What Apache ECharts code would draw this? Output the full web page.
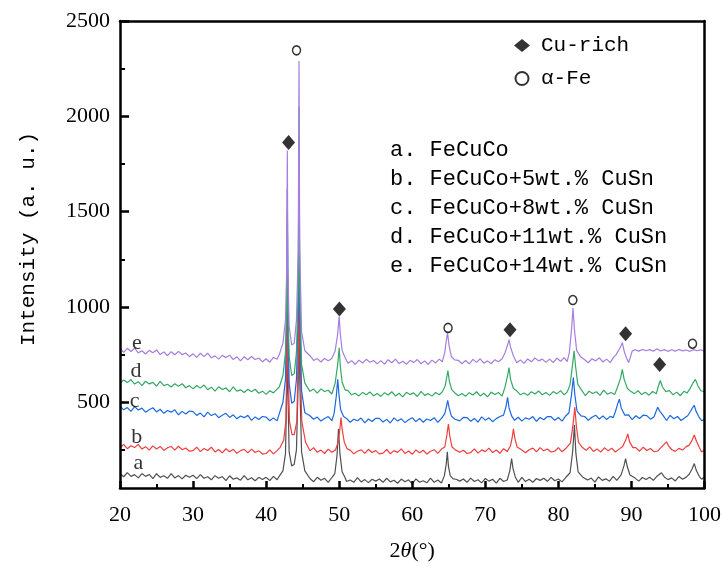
<!DOCTYPE html>
<html>
<head>
<meta charset="utf-8">
<script src="https://cdn.jsdelivr.net/npm/echarts@6/dist/echarts.min.js"></script>
<style>
  html, body { margin: 0; padding: 0; background: #fff; }
  #chart { width: 724px; height: 567px; }
</style>
</head>
<body>
<div id="chart"></div>
<script>
// 各样品的XRD曲线 [2θ, 强度]
var seriesA = [[20,127],[20.5,109],[21,131],[21.5,111],[22,120],[22.5,103],[23,126],[23.5,111],[24,121],[24.5,99],[25,125],[25.5,106],[26,114],[26.5,101],[27,126],[27.5,103],[28,115],[28.5,98],[29,117],[29.5,106],[30,117],[30.5,99],[31,120],[31.5,101],[32,109],[32.5,93],[33,115],[33.5,101],[34,110],[34.5,89],[35,114],[35.5,96],[36,103],[36.5,91],[37,115],[37.5,93],[38,104],[38.5,88],[39,106],[39.5,95],[40,106],[40.5,89],[41,111],[41.5,93],
  [41.8,112],[42.3,140],[42.65,230],[42.82,560],[42.9,1000],[42.98,560],[43.15,240],[43.5,165],[43.85,175],[44.15,250],[44.4,620],[44.5,1400],[44.6,620],[44.85,240],[45.3,140],
  [46,100],[46.5,83],[47,106],[47.5,91],[48,101],[48.5,79],[49,105],[49.4,125],[49.7,220],[49.9,360],[50.1,230],[50.4,135],[50.8,105],
  [51,84],[51.5,92],[52,80],[52.5,104],[53,82],[53.5,94],[54,78],[54.5,96],[55,86],[55.5,97],[56,80],[56.5,101],[57,82],[57.5,91],[58,75],[58.5,97],[59,83],[59.5,93],[60,72],[60.5,98],[61,80],[61.5,88],[62,77],[62.5,102],[63,80],[63.5,92],[64,76],
  [64.4,115],[64.65,175],[64.8,240],[64.95,165],[65.2,115],[65.6,98],
  [66,96],[66.5,86],[67,97],[67.5,80],[68,102],[68.5,84],[69,93],[69.5,77],[70,100],[70.5,86],[71,96],[71.5,76],[72,101],[72.5,84],[73,92],
  [73.35,140],[73.6,204],[73.8,150],[74.1,108],
  [74.5,80],[75,106],[75.5,84],[76,96],[76.5,80],[77,100],[77.5,90],[78,101],[78.5,85],[79,106],[79.5,88],[80,97],[80.5,82],[81,105],
  [81.6,130],[81.95,240],[82.2,380],[82.4,230],[82.7,135],[83.3,108],
  [84,92],[84.5,102],[85,81],[85.5,108],[86,90],[86.5,98],[87,86],[87.5,111],[88,90],
  [88.6,120],[89.0,170],[89.2,204],[89.45,160],[89.8,118],
  [90.5,102],[91,86],[91.5,105],[92,95],[92.5,106],[93,90],[93.5,112],[94.1,130],[94.5,108],
  [95,94],[95.5,103],[96,87],[96.5,110],[97,96],[97.5,107],
  [97.9,122],[98.3,150],[98.6,178],[98.9,140],[99.3,110],[99.6,96],[100,108]];
var seriesB = [[20,261],[20.5,279],[21,256],[21.5,272],[22,262],[22.5,279],[23,254],[23.5,267],[24,249],[24.5,271],[25,255],[25.5,268],[26,247],[26.5,261],[27,268],[27.5,249],[28,269],[28.5,251],[29,260],[29.5,243],[30,246],[30.5,264],[31,241],[31.5,257],[32,247],[32.5,264],[33,239],[33.5,252],[34,234],[34.5,256],[35,240],[35.5,253],[36,232],[36.5,246],[37,253],[37.5,234],[38,254],[38.5,236],[39,245],[39.5,228],[40,231],[40.5,250],[41,229],[41.5,246],
  [41.9,262],[42.4,300],[42.7,400],[42.83,700],[42.92,1200],[43.0,700],[43.2,400],[43.55,330],[43.85,330],[44.2,400],[44.42,800],[44.52,1500],[44.62,800],[44.88,400],[45.4,290],
  [46,245],[46.5,262],[47,237],[47.5,249],[48,231],[48.5,254],[49,238],
  [49.5,250],[49.85,290],[50.1,360],[50.25,420],[50.4,360],[50.7,290],[51.1,255],
  [51.5,249],[52,229],[52.5,243],[53,251],[53.5,232],[54,253],[54.5,236],[55,246],[55.5,229],[56,233],[56.5,252],[57,230],[57.5,246],[58,237],[58.5,255],[59,231],[59.5,244],[60,227],[60.5,250],[61,235],[61.5,248],[62,228],[62.5,243],[63,251],[63.5,232],[64,254],
  [64.45,265],[64.75,330],[64.95,386],[65.15,320],[65.45,265],[65.9,250],
  [66.5,238],[67,248],[67.5,231],[68,236],[68.5,255],[69,233],[69.5,250],[70,241],[70.5,259],[71,236],[71.5,249],[72,232],[72.5,256],[73,241],
  [73.45,272],[73.7,320],[73.85,360],[74.05,310],[74.35,265],
  [74.8,255],[75.5,235],[76,251],[76.5,259],[77,240],[77.5,262],[78,245],[78.5,255],[79,239],[79.5,243],[80,262],[80.5,240],[81,257],
  [81.65,285],[82.0,380],[82.25,474],[82.45,380],[82.75,290],[83.3,262],
  [83.8,248],[84.3,266],[84.8,242],[85.3,255],[85.8,238],[86.3,261],[86.8,246],[87.3,259],[87.8,239],[88.3,254],
  [88.8,268],[89.25,305],[89.5,334],[89.75,292],[90.2,262],
  [90.6,262],[91.1,243],[91.6,264],[92.1,247],[92.6,257],[93.1,240],[93.6,244],[94.1,264],
  [94.5,280],[94.8,292],[95.1,270],[95.5,252],
  [96,242],[96.5,258],[97,249],[97.5,267],
  [97.9,275],[98.3,300],[98.6,328],[98.9,295],[99.3,262],[99.6,239],[100,249]];
var seriesC = [[20,480],[20.5,460],[21,472],[21.5,452],[22,477],[22.5,459],[23,469],[23.5,448],[24,461],[24.5,471],[25,449],[25.5,463],[26,442],[26.5,457],[27,448],[27.5,460],[28,434],[28.5,452],[29,438],[29.5,454],[30,451],[30.5,431],[31,443],[31.5,423],[32,448],[32.5,430],[33,440],[33.5,419],[34,432],[34.5,442],[35,420],[35.5,434],[36,413],[36.5,428],[37,419],[37.5,431],[38,405],[38.5,423],[39,409],[39.5,425],[40,422],[40.5,403],[41,418],[41.5,402],
  [41.8,440],[42.3,500],[42.65,620],[42.82,1000],[42.9,1620],[42.98,1000],[43.15,600],[43.5,495],[43.85,505],[44.15,620],[44.4,1000],[44.5,1900],[44.6,1000],[44.85,560],[45.3,445],
  [46,429],[46.5,411],[47,422],[47.5,401],[48,415],[48.5,425],[49,403],
  [49.3,440],[49.6,530],[49.8,620],[49.97,540],[50.2,460],[50.6,425],
  [51,415],[51.5,395],[52,411],[52.5,403],[53,417],[53.5,392],[54,412],[54.5,399],[55,416],[55.5,415],[56,396],[56.5,410],[57,391],[57.5,418],[58,401],[58.5,413],[59,393],[59.5,408],[60,419],[60.5,398],[61,415],[61.5,395],[62,412],[62.5,404],[63,419],[63.5,394],[64,415],
  [64.45,440],[64.7,480],[64.85,510],[65.05,470],[65.35,428],[65.8,412],
  [66.5,402],[67,420],[67.5,419],[68,400],[68.5,415],[69,396],[69.5,423],[70,406],[70.5,418],[71,398],[71.5,414],[72,425],
  [72.5,432],[72.85,480],[73.05,526],[73.25,470],[73.6,428],
  [74,405],[74.5,421],[75,401],[75.5,418],[76,411],[76.5,425],[77,400],[77.5,420],[78,408],[78.5,425],[79,424],[79.5,405],[80,420],[80.5,401],[81,428],
  [81.45,445],[81.8,540],[82.05,630],[82.25,540],[82.55,455],[83.1,428],
  [83.6,425],[84.1,405],[84.6,421],[85.1,432],[85.6,412],[86.1,428],[86.6,409],[87.1,426],[87.5,419],
  [87.8,450],[88.15,495],[88.35,516],[88.6,470],[89.1,432],
  [89.6,434],[90.1,409],[90.6,429],[91.1,415],[91.6,432],[92.1,430],[92.6,411],[93.1,424],
  [93.35,450],[93.6,474],[93.9,452],[94.3,432],
  [94.8,404],[95.3,431],[95.8,413],[96.3,425],[96.8,404],[97.3,419],[97.7,429],
  [98.05,450],[98.35,470],[98.6,484],[98.85,452],[99.25,422],[99.6,403],[100,410]];
var seriesD = [[20,599],[20.5,617],[21,603],[21.5,619],[22,595],[22.5,608],[23,587],[23.5,610],[24,596],[24.5,604],[25,584],[25.5,609],[26,587],[26.5,594],[27,580],[27.5,597],[28,584],[28.5,597],[29,576],[29.5,587],[30,570],[30.5,588],[31,574],[31.5,590],[32,566],[32.5,579],[33,558],[33.5,581],[34,567],[34.5,575],[35,555],[35.5,580],[36,558],[36.5,565],[37,551],[37.5,568],[38,555],[38.5,568],[39,547],[39.5,558],[40,541],[40.5,560],[41,549],[41.5,569],
  [41.8,580],[42.3,640],[42.65,760],[42.82,1000],[42.9,1500],[42.98,1000],[43.15,740],[43.5,640],[43.85,650],[44.15,760],[44.4,1100],[44.5,2050],[44.6,1100],[44.85,700],[45.3,600],
  [46,557],[46.5,569],[47,548],[47.5,570],[48,556],[48.5,563],[49,543],
  [49.45,600],[49.8,700],[50.0,786],[50.15,690],[50.4,605],[50.8,565],
  [51.2,561],[51.7,539],[52.2,547],[52.7,533],[53.2,552],[53.7,539],[54.2,554],[54.7,534],[55.2,546],[55.7,531],[56.2,550],[56.7,538],[57.2,555],[57.7,533],[58.2,547],[58.7,528],[59.2,552],[59.7,540],[60.2,549],[60.7,530],[61.2,557],[61.7,536],[62.2,545],[62.7,532],[63.2,551],[63.7,539],[64.1,554],
  [64.5,585],[64.72,630],[64.88,666],[65.08,610],[65.4,566],[65.8,550],
  [66.3,534],[66.8,546],[67.3,531],[67.8,550],[68.3,538],[68.8,555],[69.3,533],[69.8,547],[70.3,528],[70.8,553],[71.3,541],[71.8,551],[72.3,532],
  [72.7,580],[73.05,640],[73.25,682],[73.45,620],[73.85,572],
  [74.3,560],[74.8,539],[75.3,548],[75.8,536],[76.3,555],[76.8,543],[77.3,559],[77.8,539],[78.3,551],[78.8,536],[79.3,556],[79.8,544],[80.3,561],[80.8,539],[81.2,553],
  [81.6,592],[81.95,700],[82.15,770],[82.35,690],[82.65,595],[83.2,562],
  [83.7,534],[84.2,558],[84.7,546],[85.2,555],[85.7,536],[86.2,563],[86.7,542],[87.2,551],[87.7,540],
  [88.1,580],[88.5,625],[88.75,672],[89.0,620],[89.45,572],
  [89.9,557],[90.4,545],[90.9,560],[91.4,540],[91.9,552],[92.4,537],[92.9,556],[93.4,544],
  [93.65,580],[93.95,614],[94.25,580],[94.7,556],
  [95.2,561],[95.7,539],[96.2,553],[96.7,534],[97.2,558],[97.6,548],
  [98.0,570],[98.4,600],[98.75,620],[99.05,590],[99.5,560],[100,555]];
var seriesE = [[20,781],[20.5,762],[21,783],[21.5,766],[22,784],[22.5,759],[23,770],[23.5,753],[24,772],[24.5,760],[25,774],[25.5,750],[26,764],[26.5,744],[27,765],[27.5,749],[28,767],[28.5,750],[29,758],[29.5,739],[30,754],[30.5,735],[31,757],[31.5,739],[32,757],[32.5,733],[33,743],[33.5,726],[34,746],[34.5,734],[35,747],[35.5,724],[36,738],[36.5,717],[37,739],[37.5,723],[38,740],[38.5,724],[39,732],[39.5,712],[40,728],[40.5,710],[41,735],[41.5,725],
  [41.8,750],[42.3,810],[42.65,930],[42.82,1200],[42.9,1820],[42.98,1200],[43.15,900],[43.5,800],[43.85,810],[44.15,930],[44.4,1300],[44.5,2290],[44.6,1300],[44.85,870],[45.3,770],
  [46,744],[46.5,719],[47,729],[47.5,711],[48,730],[48.5,717],[49,730],
  [49.45,770],[49.8,860],[50.0,950],[50.15,860],[50.4,772],[50.8,735],
  [51.2,704],[51.7,718],[52.2,699],[52.7,721],[53.2,706],[53.7,725],[54.2,710],[54.7,719],[55.2,701],[55.7,718],[56.2,700],[56.7,723],[57.2,707],[57.7,726],[58.2,703],[58.7,715],[59.2,699],[59.7,720],[60.2,709],[60.7,724],[61.2,702],[61.7,717],[62.2,698],[62.7,721],[63.2,706],[63.7,726],[64.1,712],
  [64.45,760],[64.68,830],[64.83,864],[65.03,800],[65.35,740],[65.8,722],
  [66.3,720],[66.8,702],[67.3,719],[67.8,701],[68.3,725],[68.8,709],[69.3,728],[69.8,705],[70.3,717],[70.8,702],[71.3,723],[71.8,712],[72.3,728],
  [72.7,760],[73.05,800],[73.25,828],[73.45,790],[73.85,742],
  [74.3,707],[74.8,722],[75.3,704],[75.8,727],[76.3,712],[76.8,732],[77.3,717],[77.8,726],[78.3,709],[78.8,726],[79.3,708],[79.8,731],[80.3,715],[80.8,734],[81.2,713],
  [81.5,760],[81.8,880],[82.0,994],[82.2,880],[82.5,772],[83.05,738],
  [83.6,723],[84.1,707],[84.6,728],[85.1,717],[85.6,733],[86.1,711],[86.6,726],[87.1,708],[87.5,733],
  [87.9,750],[88.4,782],[88.75,812],[89.05,762],[89.4,725],[89.6,708],[89.85,735],[90.1,768],
  [90.5,775],[91,768],[91.5,777],[92,770],[92.5,776],[93,767],[93.5,781],[94,769],[94.5,776],[95,767],[95.5,775],[96,768],[96.5,777],[97,769],[97.5,774],[98,767],[98.5,776],[99,770],[99.5,775],[100,767]];

var sampleNames = ['a', 'b', 'c', 'd', 'e'];
var sampleLegend = ['a. FeCuCo', 'b. FeCuCo+5wt.% CuSn', 'c. FeCuCo+8wt.% CuSn', 'd. FeCuCo+11wt.% CuSn', 'e. FeCuCo+14wt.% CuSn'];
var sampleColors = ['#505050', '#ef3e3e', '#1c68e0', '#35a863', '#a57ee0'];
// 曲线左侧字母标注位置
var sampleTagPoints = [[22.5, 178], [22.3, 318], [22.0, 505], [22.2, 661], [22.3, 812]];
// 物相标记
var cuRichPoints = [[43.07, 1862], [50.03, 989], [73.38, 880], [89.2, 859], [93.86, 698]];
var alphaFePoints = [[44.16, 2346], [64.9, 890], [81.98, 1036], [98.36, 807]];
// 坐标轴刻度
var xMajorValues = [20, 30, 40, 50, 60, 70, 80, 90, 100];
var xMinorValues = [25, 35, 45, 55, 65, 75, 85, 95];
var yLabelValues = [500, 1000, 1500, 2000, 2500];
var yMinorValues = [250, 750, 1250, 1750, 2250];

var allSeries = [seriesA, seriesB, seriesC, seriesD, seriesE];
var serifFont = '"Liberation Serif", "DejaVu Serif", serif';
var monoFont = '"Liberation Mono", "DejaVu Sans Mono", monospace';

var myChart = echarts.init(document.getElementById('chart'));

var series = [];
allSeries.forEach(function (d, i) {
    series.push({
        name: sampleNames[i],
        type: 'line',
        data: d,
        showSymbol: false,
        symbol: 'none',
        lineStyle: { color: sampleColors[i], width: 1.2 },
        z: 2 + i
    });
});
// 字母标注
series.push({
    name: 'tags',
    type: 'scatter',
    symbolSize: 0,
    data: sampleTagPoints.map(function (p, i) {
        return { value: p, label: { formatter: sampleNames[i] } };
    }),
    label: {
        show: true,
        position: 'inside',
        color: '#000',
        fontFamily: serifFont,
        fontSize: 22
    },
    z: 10
});
series.push({
    name: 'Cu-rich',
    type: 'scatter',
    symbol: 'diamond',
    symbolSize: [13, 15],
    itemStyle: { color: '#000' },
    data: cuRichPoints,
    z: 10
});
series.push({
    name: 'α-Fe',
    type: 'scatter',
    symbol: 'circle',
    symbolSize: [8, 9],
    itemStyle: { color: '#fff', borderColor: '#000', borderWidth: 1.5 },
    data: alphaFePoints,
    z: 10
});

// 只画刻度的辅助轴
function tickAxis(pos, min, max, values, len, width) {
    return {
        type: 'value',
        position: pos,
        min: min, max: max,
        axisLine: { show: false, onZero: false },
        axisTick: { show: true, inside: true, length: len, customValues: values, lineStyle: { color: '#000', width: width } },
        axisLabel: { show: false, customValues: values },
        splitLine: { show: false },
        z: 20
    };
}
// 只画边框线的辅助轴
function lineAxis(pos, min, max) {
    return {
        type: 'value',
        position: pos,
        min: min, max: max,
        axisLine: { show: true, onZero: false, lineStyle: { color: '#000', width: 2.5 } },
        axisTick: { show: false },
        axisLabel: { show: false },
        splitLine: { show: false },
        z: 20
    };
}

var option = {
    animation: false,
    backgroundColor: '#fff',
    grid: { left: 120, right: 18, top: 21, bottom: 75 },
    legend: {
        data: [{ name: 'Cu-rich' }, { name: 'α-Fe' }],
        orient: 'vertical',
        left: 509,
        top: 30,
        itemGap: 12,
        itemWidth: 16,
        itemHeight: 13,
        textStyle: { fontFamily: monoFont, fontSize: 21, color: '#000', padding: [0, 0, 0, 6] }
    },
    xAxis: [{
        type: 'value',
        position: 'bottom',
        min: 20, max: 100,
        name: '2{i|θ}(°)',
        nameLocation: 'middle',
        nameGap: 52,
        nameTextStyle: {
            fontFamily: serifFont, fontSize: 22, color: '#000',
            rich: { i: { fontFamily: serifFont, fontSize: 22, fontStyle: 'italic', color: '#000' } }
        },
        axisLine: { show: true, onZero: false, lineStyle: { color: '#000', width: 2.5 } },
        axisTick: { show: false },
        axisLabel: { fontFamily: serifFont, fontSize: 22, color: '#000', margin: 16, customValues: xMajorValues },
        splitLine: { show: false },
        z: 20
    },
        tickAxis('bottom', 20, 100, xMajorValues, 7, 2.5),
        tickAxis('bottom', 20, 100, xMinorValues, 4, 2),
        lineAxis('top', 20, 100)
    ],
    yAxis: [{
        type: 'value',
        position: 'left',
        min: 50, max: 2500,
        axisLine: { show: true, onZero: false, lineStyle: { color: '#000', width: 2.5 } },
        axisTick: { show: false },
        axisLabel: {
            fontFamily: serifFont, fontSize: 22, color: '#000', margin: 10, customValues: yLabelValues,
            formatter: function (v) { return String(v); }
        },
        splitLine: { show: false },
        z: 20
    },
        tickAxis('left', 50, 2500, yLabelValues, 9, 2.5),
        tickAxis('left', 50, 2500, yMinorValues, 5, 2),
        lineAxis('right', 50, 2500)
    ],
    graphic: [{
        type: 'text',
        x: 28, y: 239,
        rotation: Math.PI / 2,
        style: {
            text: 'Intensity (a. u.)',
            font: '21px ' + monoFont,
            fill: '#000',
            textAlign: 'center',
            textVerticalAlign: 'middle'
        }
    }, {
        type: 'text',
        left: 390, top: 136,
        style: {
            text: sampleLegend.join('\n'),
            font: '22px ' + monoFont,
            lineHeight: 29,
            fill: '#000'
        }
    }],
    series: series
};
myChart.setOption(option);
</script>
</body>
</html>
